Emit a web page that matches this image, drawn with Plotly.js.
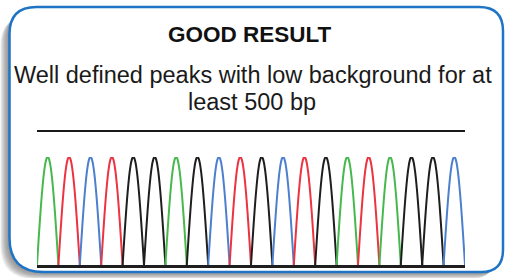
<!DOCTYPE html>
<html>
<head>
<meta charset="utf-8">
<script src="https://cdn.plot.ly/plotly-3.0.1.min.js"></script>
<style>
html,body{margin:0;padding:0;background:#fff;}
#chart{width:505px;height:278px;}
</style>
</head>
<body>
<div id="chart"></div>
<script>
// ---- data ----
const bases = ['A','T','C','T','G','G','A','G','C','T','G','C','T','G','A','T','A','G','G','C'];
const peakHeights = [1,1,1,1,1,1,1,1,1,1,1,1,1,1,1,1,1,1,1,1];
const baseColors = {A:'#46b94e', C:'#4d7fcf', G:'#1e1e1e', T:'#ec3340'};
const titleText = 'GOOD RESULT';
const subtitleLines = ['Well defined peaks with low background for at', 'least 500 bp'];

// ---- traces: one peak per base call ----
const traces = [];
const N = 30;
bases.forEach((b, i) => {
  const xs = [], ys = [];
  for (let k = 0; k <= N; k++) {
    const t = k / N;
    xs.push(i + t);
    ys.push(peakHeights[i] * Math.sin(Math.PI * t));
  }
  traces.push({
    x: xs, y: ys, xaxis: 'x2', yaxis: 'y2', type: 'scatter', mode: 'lines',
    line: {color: baseColors[b], width: 2, shape: 'spline'},
    hoverinfo: 'skip', showlegend: false
  });
});

// ---- helper: rounded rect path in pixel coords ----
function rrect(x0, y0, x1, y1, rtl, rtr, rbr, rbl) {
  return `M ${x0+rtl} ${y0} L ${x1-rtr} ${y0} Q ${x1} ${y0} ${x1} ${y0+rtr} ` +
         `L ${x1} ${y1-rbr} Q ${x1} ${y1} ${x1-rbr} ${y1} ` +
         `L ${x0+rbl} ${y1} Q ${x0} ${y1} ${x0} ${y1-rbl} ` +
         `L ${x0} ${y0+rtl} Q ${x0} ${y0} ${x0+rtl} ${y0} Z`;
}

const shapes = [];
// soft shadow (left and bottom)
for (let s = 1; s <= 9; s++) {
  shapes.push({
    type: 'path', xref: 'x', yref: 'y', layer: 'below',
    path: rrect(9.5 - s, 7 + 2 + s * 1.0, 503 - s, 272 + s * 0.75, 27, 24, 22, 34),
    fillcolor: 'rgba(110,110,110,0.13)', line: {width: 0}
  });
}
// box
shapes.push({
  type: 'path', xref: 'x', yref: 'y', layer: 'below',
  path: rrect(9.5, 7, 503, 272, 27, 24, 22, 34),
  fillcolor: '#ffffff', line: {color: '#1f74c6', width: 2.5}
});
// separator line
shapes.push({
  type: 'line', xref: 'x', yref: 'y', x0: 37, x1: 465, y0: 131, y1: 131,
  line: {color: '#1a1a1a', width: 2}
});

const font = 'Liberation Sans, Arial, sans-serif';
const annotations = [
  {text: '<b>' + titleText + '</b>', x: 250, y: 34, xref: 'x', yref: 'y',
   showarrow: false, xanchor: 'center', yanchor: 'middle',
   font: {family: font, size: 22.5, color: '#111'}},
  {text: subtitleLines[0], x: 252.5, y: 74.5, xref: 'x', yref: 'y',
   showarrow: false, xanchor: 'center', yanchor: 'middle',
   font: {family: font, size: 23.5, color: '#1a1a1a'}},
  {text: subtitleLines[1], x: 251.5, y: 102, xref: 'x', yref: 'y',
   showarrow: false, xanchor: 'center', yanchor: 'middle',
   font: {family: font, size: 23.5, color: '#1a1a1a'}}
];

const layout = {
  width: 505, height: 278,
  margin: {l: 0, r: 0, t: 0, b: 0, pad: 0},
  paper_bgcolor: '#ffffff', plot_bgcolor: 'rgba(0,0,0,0)',
  showlegend: false,
  xaxis: {range: [0, 505], domain: [0, 1], visible: false, fixedrange: true},
  yaxis: {range: [278, 0], domain: [0, 1], visible: false, fixedrange: true},
  xaxis2: {range: [0, bases.length], domain: [37/505, 465/505], anchor: 'y2',
           showgrid: false, zeroline: false, showticklabels: false, ticks: '',
           showline: true, linecolor: '#1e1e1e', linewidth: 2.5, fixedrange: true},
  yaxis2: {range: [0, 1], domain: [(278-265)/278, (278-157)/278], anchor: 'x2',
           showgrid: false, zeroline: false, showticklabels: false, ticks: '',
           showline: false, fixedrange: true},
  shapes: shapes,
  annotations: annotations
};

Plotly.newPlot('chart', traces, layout, {staticPlot: true, displayModeBar: false});
</script>
</body>
</html>
